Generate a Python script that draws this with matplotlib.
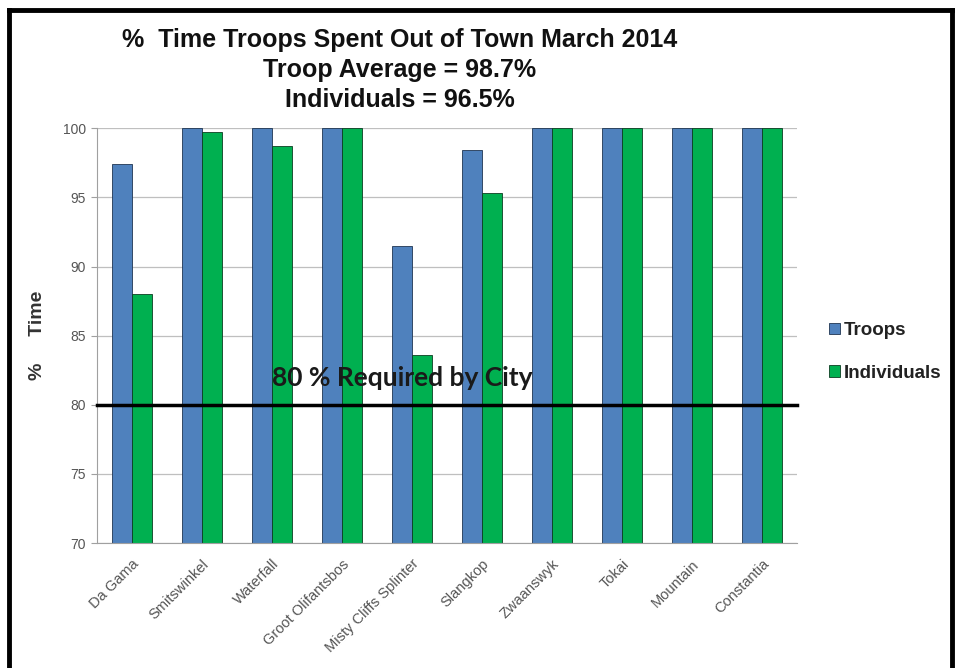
import numpy as np
import matplotlib
matplotlib.use('Agg')
import matplotlib.pyplot as plt
from matplotlib.lines import Line2D

# dados
grupos = ['Da Gama', 'Smitswinkel', 'Waterfall', 'Groot Olifantsbos',
          'Misty Cliffs Splinter', 'Slangkop', 'Zwaanswyk', 'Tokai',
          'Mountain', 'Constantia']
troops = [97.4, 100, 100, 100, 91.5, 98.4, 100, 100, 100, 100]
individuals = [88.0, 99.7, 98.7, 100, 83.6, 95.3, 100, 100, 100, 100]
required = 80

plt.rcParams['font.family'] = ['Liberation Sans', 'DejaVu Sans']

fig = plt.figure(figsize=(9.57, 6.68), dpi=100)
ax = fig.add_axes([0.101, 0.187, 0.732, 0.621])

x = np.arange(len(grupos))
w = 0.286
ax.bar(x - w / 2, troops, w, color='#4F81BD', edgecolor='#1f3552', linewidth=0.6,
       label='Troops', zorder=2)
ax.bar(x + w / 2, individuals, w, color='#00B050', edgecolor='#0c3d22', linewidth=0.6,
       label='Individuals', zorder=2)

ax.set_xlim(-0.5, len(grupos) - 0.5)
ax.set_ylim(70, 100)
ax.set_yticks(range(70, 101, 5))
ax.yaxis.grid(True, color='#bfbfbf', linewidth=0.9, zorder=0)
ax.set_axisbelow(True)
for s in ['top', 'right']:
    ax.spines[s].set_visible(False)
ax.spines['left'].set_color('#a0a0a0')
ax.spines['bottom'].set_color('#a0a0a0')
ax.tick_params(axis='y', colors='#a0a0a0', labelcolor='#555555', labelsize=10, length=4)
ax.tick_params(axis='x', length=0, labelcolor='#555555', labelsize=10.5, pad=10)
ax.set_xticks(x)
ax.set_xticklabels(grupos, rotation=45, ha='right', rotation_mode='anchor')

ax.set_ylabel('%     Time', fontsize=14, fontweight='bold', color='#333333', labelpad=12)

# linha dos 80 %
ax.axhline(required, color='black', linewidth=2.5, zorder=3, clip_on=False)
ax.text(3.86, 81.35, '80 % Required by City', fontsize=19, fontweight='bold',
        color='#1a1a1a', ha='center', va='baseline', family=['Lato', 'DejaVu Sans'], zorder=4)

titulo = ['%  Time Troops Spent Out of Town March 2014',
          'Troop Average = 98.7%',
          'Individuals = 96.5%']
for linha, yy in zip(titulo, [0.9296, 0.8847, 0.8398]):
    fig.text(0.418, yy, linha, ha='center', va='baseline', fontsize=18,
             fontweight='bold', color='#111111')

leg = ax.legend(loc='center left', bbox_to_anchor=(1.035, 0.461), frameon=False,
                fontsize=13.5, handlelength=0.55, handleheight=0.55, handletextpad=0.2,
                labelspacing=1.35, borderaxespad=0)
for t in leg.get_texts():
    t.set_fontweight('bold')
    t.set_color('#222222')

# moldura preta
fig.add_artist(Line2D([0.009, 0.009], [0.0, 0.985], color='black', linewidth=3.5,
                      transform=fig.transFigure))
fig.add_artist(Line2D([0.009, 0.995], [0.985, 0.985], color='black', linewidth=3.5,
                      transform=fig.transFigure))
fig.add_artist(Line2D([0.995, 0.995], [0.0, 0.985], color='black', linewidth=3.5,
                      transform=fig.transFigure))

fig.savefig('out.png', dpi=100)
